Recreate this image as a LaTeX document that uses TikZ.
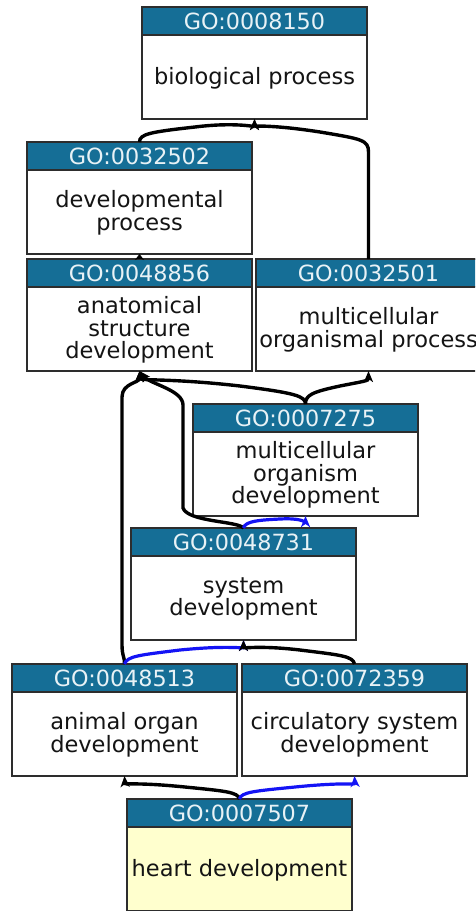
\documentclass[tikz,border=0pt]{standalone}
\usepackage{fontspec}
\setmainfont{DejaVu Sans}
\usetikzlibrary{calc,arrows.meta}
\definecolor{hdr}{RGB}{21,110,150}
\definecolor{hdrtxt}{RGB}{232,242,246}
\definecolor{frame}{RGB}{45,45,45}
\definecolor{heart}{RGB}{255,255,206}
\definecolor{eblue}{RGB}{20,20,245}
\tikzset{
  gobox/.style={draw=frame, line width=1.3pt, minimum width=225pt, minimum height=112pt,
    inner sep=0pt, outer sep=0pt, anchor=north west},
  gohdr/.style={draw=frame, fill=hdr, line width=1.3pt, minimum width=225pt, minimum height=28pt,
    inner sep=0pt, outer sep=0pt, anchor=north west, text=hdrtxt,
    font=\fontsize{22.3}{22.5}\selectfont},
  gotxt/.style={inner sep=0pt, align=center, text=black!92, font=\fontsize{22.5}{22.5}\selectfont},
  edge/.style={line width=3.4pt, black, -{Stealth[length=11pt,width=9pt,inset=3pt]}},
  bedge/.style={line width=3.2pt, eblue, -{Stealth[length=11pt,width=9pt,inset=3pt]}},
}
\newcommand\goterm[6]{%
  \node[gobox, fill=#6] (#1) at (#2,#3) {};
  \node[gohdr] (#1h) at (#2,#3) {#4};
  \node[gotxt] (#1t) at ($(#1h.south)!0.5!(#1.south)+(0,1)$) {#5};
}
\begin{document}
\begin{tikzpicture}[x=1pt,y=-1pt]
\path[use as bounding box] (0,0) rectangle (475,911);
\clip (0,0) rectangle (475,911);
\goterm{a}{142}{7}{GO:0008150}{biological process}{white}
\goterm{b}{27}{142}{GO:0032502}{developmental\\process}{white}
\goterm{c}{27}{259}{GO:0048856}{anatomical\\structure\\development}{white}
\goterm{d}{256}{259}{GO:0032501}{multicellular\\organismal process}{white}
\goterm{e}{193}{404}{GO:0007275}{multicellular\\organism\\development}{white}
\goterm{f}{131}{528}{GO:0048731}{system\\development}{white}
\goterm{g}{12}{664}{GO:0048513}{animal organ\\development}{white}
\goterm{h}{242}{664}{GO:0072359}{circulatory system\\development}{white}
\goterm{i}{127}{799}{GO:0007507}{heart development}{heart}
% edges
\draw[edge] (b.north) .. controls (139.5,134) and (150,132) .. (195,127)
  .. controls (235,122) and (254.5,127) .. (a.south);
\draw[edge] (d.north) -- (368.5,152) .. controls (368.5,140) and (362,139) .. (320,132)
  .. controls (275,125) and (254.5,126) .. (a.south);
\draw[line width=3.4pt, -{Stealth[length=6pt,width=9pt]}] (c.north) -- (b.south);
\draw[edge] (e.north) .. controls (305.5,396) and (295,393) .. (240,386)
  .. controls (170,378) and (139.5,381) .. (c.south);
\draw[edge] (e.north) .. controls (305.5,395) and (312,392) .. (340,386)
  .. controls (365,381) and (368.5,381) .. (d.south);
\draw[edge] (f.north) .. controls (238,521) and (188,522) .. (183,508)
  -- (183,405) .. controls (183,390) and (150,384) .. (c.south);
\draw[bedge] (f.north) .. controls (245,521) and (260,520) .. (280,519)
  .. controls (298,518) and (305.5,521) .. (e.south);
\draw[edge] (g.north) .. controls (125,658) and (122,656) .. (122,645)
  -- (122,397) .. controls (122,383) and (139.5,383) .. (c.south);
\draw[bedge] (g.north) .. controls (127,656) and (140,655) .. (180,650)
  .. controls (230,645) and (243.5,649) .. (f.south);
\draw[edge] (h.north) .. controls (353,656) and (340,655) .. (300,650)
  .. controls (257,645) and (243.5,649) .. (f.south);
\draw[edge] (i.north) .. controls (238,792) and (225,791) .. (185,787)
  .. controls (135,782) and (125,785) .. (g.south);
\draw[bedge] (i.north) .. controls (241,792) and (255,791) .. (295,787)
  .. controls (345,782) and (355,785) .. (h.south);
\end{tikzpicture}
\end{document}
